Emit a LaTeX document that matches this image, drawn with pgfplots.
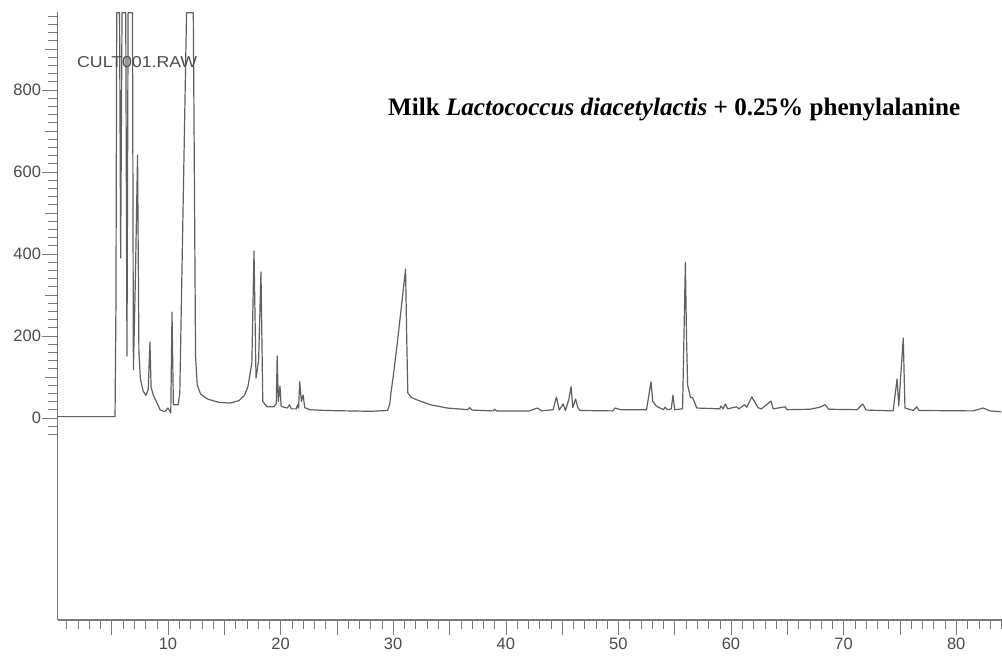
\documentclass[border=0pt]{standalone}
\usepackage{pgfplots}
\pgfplotsset{compat=1.18}
\usepackage{fontspec}
\setmainfont{Liberation Sans}
\newfontfamily\timesf{Liberation Serif}
\definecolor{trace}{HTML}{606060}
\definecolor{axgray}{HTML}{7A7A7A}
\definecolor{lblgray}{HTML}{4A4A4A}
\begin{document}
\begin{tikzpicture}[x=1bp,y=1bp]
\useasboundingbox (0,0) rectangle (1002,658);
\begin{axis}[
  at={(57.5bp,38bp)}, anchor=south west,
  scale only axis, width=944.5bp, height=608bp,
  xmin=0.19, xmax=84.07, ymin=-493, ymax=990,
  axis lines=left, axis line style={-, draw=axgray, line width=1.1bp},
  clip=false,
  tick align=outside,
  tick style={draw=axgray, line width=0.9bp},
  major tick length=15bp, minor tick length=9bp,
  xtick={10,20,...,80},
  minor xtick={1,2,...,84},
  extra x ticks={5,15,...,75},
  extra x tick labels={},
  ytick={0,200,...,800},
  minor ytick={-40,-20,...,980},
  extra y ticks={100,300,...,900},
  extra y tick labels={},
  extra y tick style={major tick length=12bp},
  /pgf/number format/assume math mode=true,
  tick label style={font=\fontsize{16.5bp}{18bp}\selectfont, text=lblgray},
  yticklabel style={xshift=2bp},
  xticklabel style={yshift=1bp},
  every tick/.style={draw=axgray},
]
\addplot[trace, line width=1.2bp, line join=round] coordinates {
(0.2,3) (5.30,3) (5.38,275) (5.45,988) (5.70,988) (5.80,390) (5.92,988) (6.25,988)
(6.36,151) (6.46,988) (6.85,988) (6.93,117) (7.10,330) (7.30,641) (7.42,160) (7.55,95)
(7.80,65) (8.05,55) (8.25,70) (8.40,185) (8.50,75) (8.70,55) (8.90,44) (9.30,20)
(9.70,15) (10.00,24) (10.25,12) (10.36,258) (10.48,32) (10.90,32) (11.05,60) (11.65,988)
(12.25,988) (12.45,150) (12.60,80) (12.90,58) (13.50,46) (14.50,38) (15.50,36) (16.30,42)
(16.80,55) (17.10,76) (17.45,134) (17.64,407) (17.82,97) (18.05,140) (18.26,356) (18.42,40)
(18.80,27) (19.40,27) (19.62,35) (19.70,151) (19.80,40) (19.95,78) (20.05,28) (20.60,24)
(20.80,32) (20.95,22) (21.40,22) (21.50,32) (21.60,24) (21.70,88) (21.85,40) (22.00,56)
(22.15,25) (22.60,20) (24.00,18) (26.00,17) (28.00,16) (29.50,18) (29.70,34) (29.80,60)
(30.00,100) (30.40,190) (31.10,363) (31.20,200) (31.30,61) (31.60,50) (32.10,44) (33.30,32)
(34.80,24) (36.60,20) (36.80,25) (37.00,19) (38.90,17) (39.00,21) (39.2,17) (42.1,17)
(42.8,24) (43.2,17) (44.2,20) (44.5,51) (44.75,19) (45.1,34) (45.3,18) (45.6,45)
(45.8,76) (45.95,25) (46.2,46) (46.4,25) (46.6,18) (49.5,17) (49.7,24) (50.2,20)
(52.5,20) (52.9,88) (53.05,40) (53.4,28) (53.7,24) (54.0,20) (54.15,26) (54.35,20)
(54.7,22) (54.85,56) (55.0,20) (55.7,22) (55.95,380) (56.05,200) (56.15,80) (56.4,50)
(56.6,49) (56.97,24) (59.0,22) (59.1,29) (59.3,22) (59.5,34) (59.7,22) (60.5,27)
(60.7,22) (61.2,32) (61.4,26) (61.85,51) (62.1,39) (62.4,25) (62.7,22) (63.55,41)
(63.75,22) (64.8,27) (65.0,20) (67.0,21) (67.9,26) (68.35,32) (68.7,21) (71.2,20)
(71.7,34) (72.0,19) (74.4,17) (74.75,95) (74.9,29) (75.3,195) (75.45,24) (76.2,18)
(76.5,27) (76.7,18) (81.5,17) (82.4,24) (83.0,17) (84.0,15)
};
\end{axis}
\node[anchor=base west, inner sep=0pt, text=lblgray] at (77,590)
  {\resizebox{120bp}{11bp}{CULT001.RAW}};
\node[anchor=base west, inner sep=0pt] at (388,542)
  {\resizebox{572bp}{!}{\timesf\bfseries Milk \textit{Lactococcus diacetylactis} + 0.25\% phenylalanine}};
\end{tikzpicture}
\end{document}
